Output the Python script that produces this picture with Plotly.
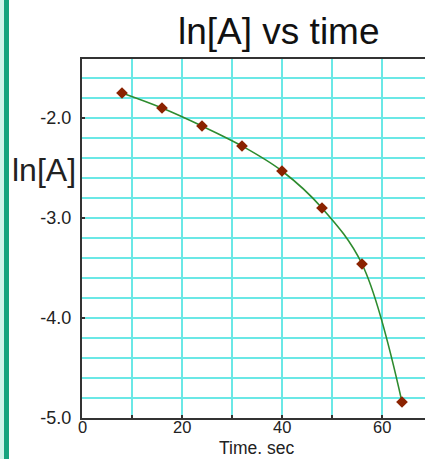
import plotly.graph_objects as go

time_s = [8, 16, 24, 32, 40, 48, 56, 64]
ln_a = [-1.75, -1.90, -2.08, -2.28, -2.53, -2.90, -3.46, -4.84]

y_tick_vals = [-5.0, -4.0, -3.0, -2.0]
y_tick_text = ["-5.0", "-4.0", "-3.0", "-2.0"]
x_tick_vals = [0, 20, 40, 60]
x_tick_text = ["0", "20", "40", "60"]

title_text = "ln[A] vs time"
x_title = "Time. sec"
y_title = "ln[A]"

W, H = 425, 459
L, R, T, B = 82, 0, 59, 41
pw = W - L - R
ph = H - T - B

grid = "#6be8e6"
axis_c = "#333333"
font = "Liberation Sans, Arial, sans-serif"

fig = go.Figure()
fig.add_trace(go.Scatter(
    x=time_s, y=ln_a, mode="lines+markers",
    line=dict(color="#2e8b2e", width=1.6, shape="spline", smoothing=1.0),
    marker=dict(symbol="diamond", size=9, color="#8b2200"),
    showlegend=False, hoverinfo="skip"))

fig.update_layout(
    width=W, height=H,
    margin=dict(l=L, r=R, t=T, b=B),
    paper_bgcolor="white", plot_bgcolor="white",
    font=dict(family=font, color="#222222"),
    xaxis=dict(
        range=[0, pw / 5.0], tickvals=x_tick_vals, showticklabels=False,
        showgrid=True, gridcolor=grid, gridwidth=1.5,
        showline=True, linecolor=axis_c, linewidth=2, mirror=True,
        ticks="inside", ticklen=3, tickcolor=axis_c, tickwidth=2,
        zeroline=False,
        minor=dict(dtick=10, tick0=0, showgrid=True, gridcolor=grid, gridwidth=1.5,
                   ticks="inside", ticklen=3, tickcolor=axis_c, tickwidth=2),
    ),
    yaxis=dict(
        range=[-5.0, -1.41], tickvals=y_tick_vals, ticktext=y_tick_text,
        showgrid=True, gridcolor=grid, gridwidth=1.5,
        showline=True, linecolor=axis_c, linewidth=2,
        ticks="inside", ticklen=3, tickcolor=axis_c, tickwidth=2,
        tickfont=dict(size=18, color="#222222"),
        ticklabelstandoff=5,
        zeroline=False,
        minor=dict(dtick=0.2, tick0=-5, showgrid=True, gridcolor=grid, gridwidth=1.5),
    ),
)

# x tick labels (placed through the x axis scale)
for v, t in zip(x_tick_vals, x_tick_text):
    fig.add_annotation(text=t, xref="x", yref="paper", x=v, y=-(427 - 418) / ph,
                       showarrow=False, xanchor="center", yanchor="middle",
                       borderpad=0, font=dict(size=16.5, color="#222222", family=font))

# left border strip
fig.add_shape(type="rect", xref="paper", yref="paper",
              x0=-L / pw, x1=-(L - 4) / pw, y0=-B / ph, y1=1 + T / ph,
              fillcolor="#cff3ea", line_width=0, layer="below")
fig.add_shape(type="rect", xref="paper", yref="paper",
              x0=-(L - 4) / pw, x1=-(L - 9) / pw, y0=-B / ph, y1=1 + T / ph,
              fillcolor="#16a37e", line_width=0, layer="below")

# title
fig.add_annotation(text=title_text, xref="paper", yref="paper",
                   x=(279 - L) / pw, y=1 + (T - 31) / ph, showarrow=False,
                   xanchor="center", yanchor="middle",
                   font=dict(size=37, color="#111111", family=font))
# y title
fig.add_annotation(text=y_title, xref="paper", yref="paper",
                   x=(44 - L) / pw, y=(418 - 170) / ph, showarrow=False,
                   xanchor="center", yanchor="middle",
                   font=dict(size=32, color="#222222", family=font))
# x title
fig.add_annotation(text=x_title, xref="paper", yref="paper",
                   x=(256 - L) / pw, y=-(448 - 418) / ph, showarrow=False,
                   xanchor="center", yanchor="middle", borderpad=0,
                   font=dict(size=17.5, color="#222222", family=font))

fig.write_html("out.html")
